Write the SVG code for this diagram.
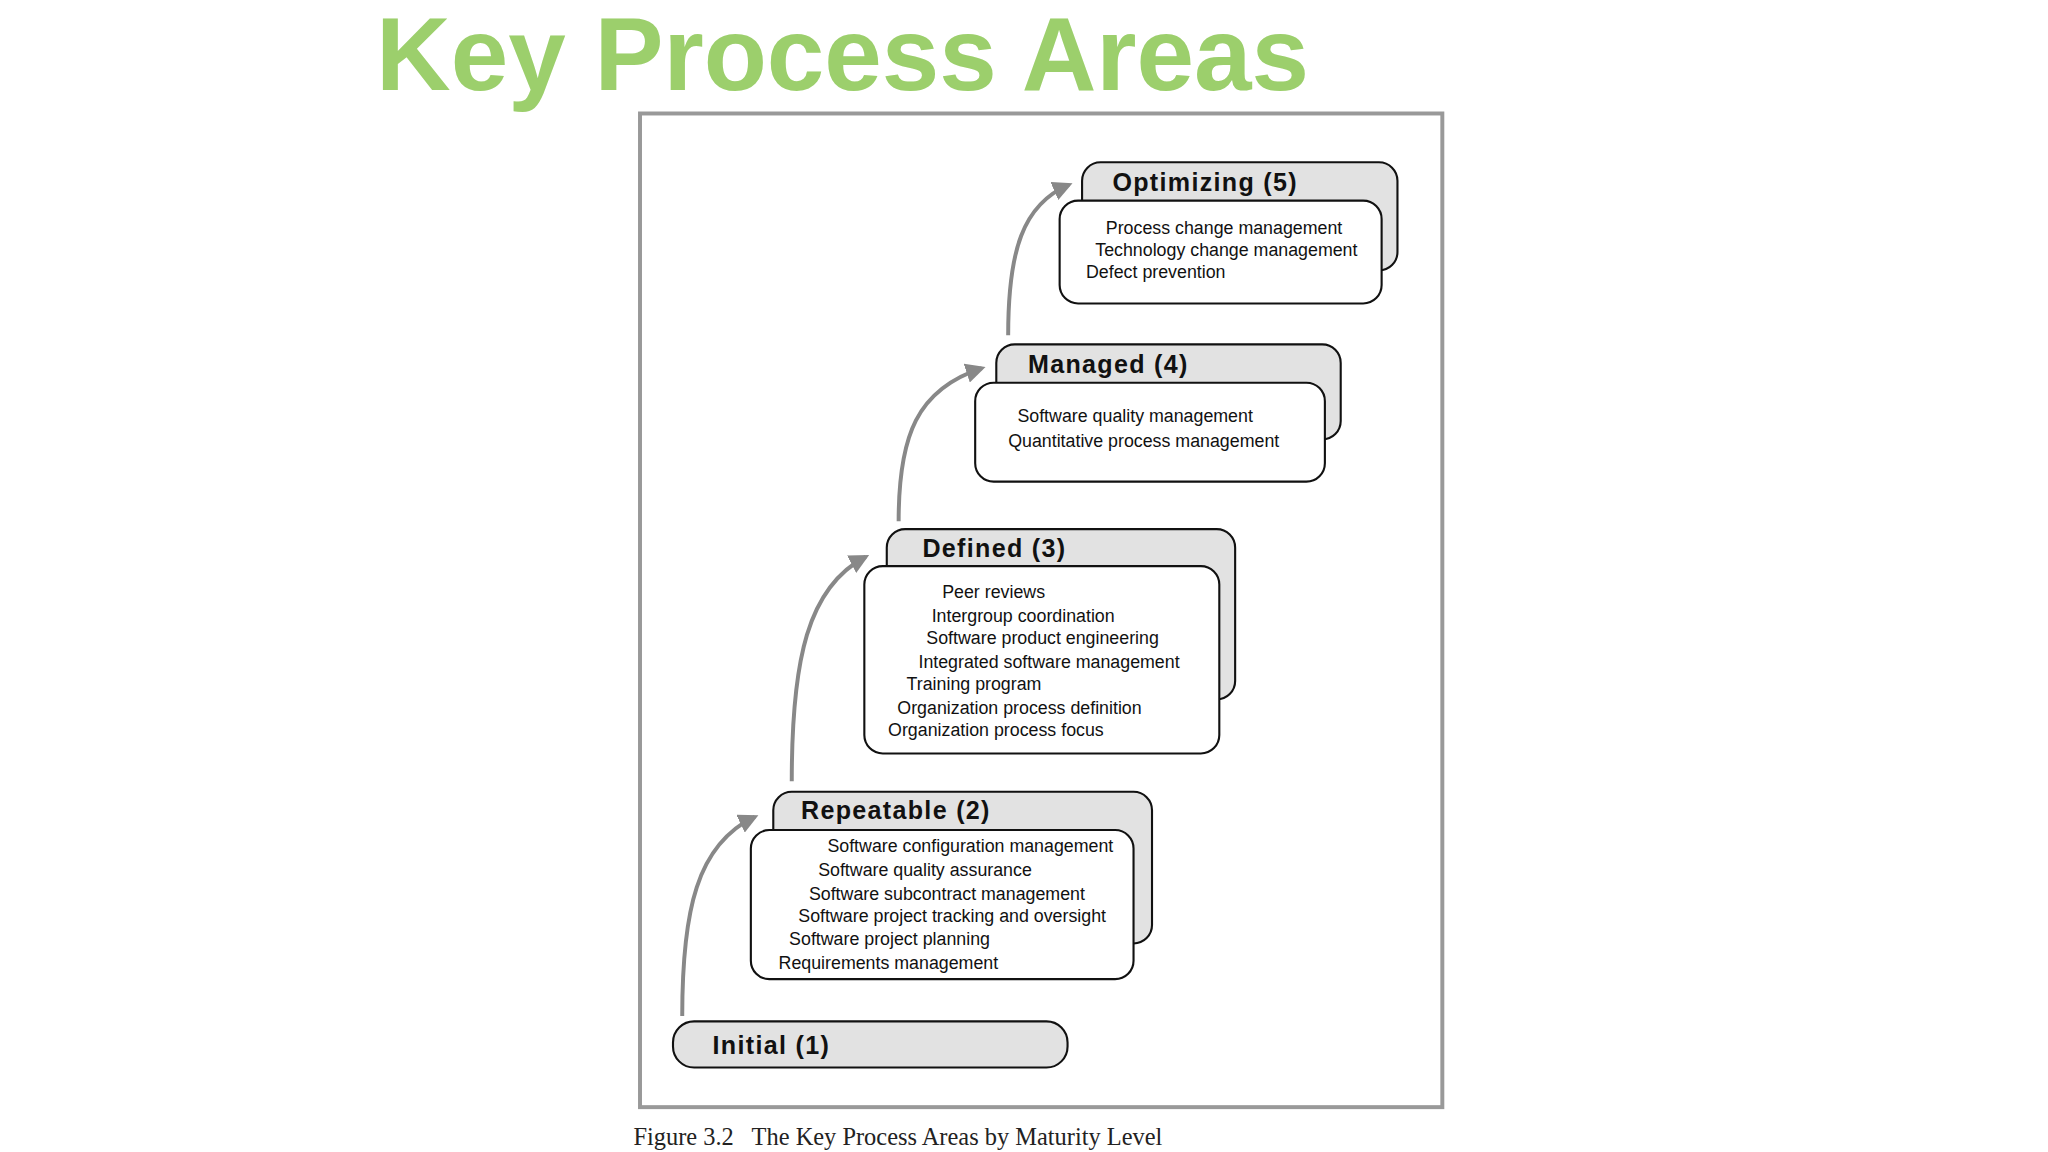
<svg xmlns="http://www.w3.org/2000/svg" width="2048" height="1152" viewBox="0 0 2048 1152">
<style>
.back{fill:#e2e2e2;stroke:#111;stroke-width:1.6}
.front{fill:#fff;stroke:#111;stroke-width:1.6}
.t{font-family:"Liberation Sans",Arial,sans-serif;font-weight:bold;font-size:19px;fill:#111;letter-spacing:1px}
.i{font-family:"Liberation Sans",Arial,sans-serif;font-size:13.5px;fill:#111}
.arr{fill:none;stroke:#888;stroke-width:3}
</style>
<defs><marker id="ah" viewBox="0 0 10 10" refX="8" refY="5" markerWidth="5" markerHeight="5" orient="auto"><path d="M0,0L10,5L0,10z" fill="#888"/></marker></defs>
<rect width="2048" height="1152" fill="#fff"/>
<g transform="scale(1.3196)">
<text x="285" y="68" font-family="Liberation Sans,Arial,sans-serif" font-weight="bold" font-size="78" fill="#9ccf6c" textLength="707" lengthAdjust="spacingAndGlyphs">Key Process Areas</text>
<rect x="485" y="86" width="608" height="753" fill="#fff" stroke="#999" stroke-width="3"/>
<text x="480" y="868" font-family="Liberation Serif,serif" font-size="18.5" fill="#222" xml:space="preserve">Figure 3.2   The Key Process Areas by Maturity Level</text>
<g id="connectors">
<path class="arr" marker-end="url(#ah)" d="M517,770 C517,690 528,640 572,619"/>
<path class="arr" marker-end="url(#ah)" d="M600,592 C600,500 612,445 656,422"/>
<path class="arr" marker-end="url(#ah)" d="M681,395 C681,330 695,295 744,279"/>
<path class="arr" marker-end="url(#ah)" d="M764,254 C764,190 775,155 810,140"/>
</g>
<g id="optimizing">
<rect class="back" x="820" y="123" width="239" height="82" rx="14"/>
<rect class="front" x="803" y="152" width="244" height="78" rx="14"/>
<text class="t" x="843" y="145">Optimizing (5)</text>
<text class="i" x="838" y="177">Process change management</text>
<text class="i" x="830" y="194">Technology change management</text>
<text class="i" x="823" y="211">Defect prevention</text>
</g>
<g id="managed">
<rect class="back" x="755" y="261" width="261" height="72" rx="14"/>
<rect class="front" x="739" y="290" width="265" height="75" rx="14"/>
<text class="t" x="779" y="283">Managed (4)</text>
<text class="i" x="771" y="320">Software quality management</text>
<text class="i" x="764" y="339">Quantitative process management</text>
</g>
<g id="defined">
<rect class="back" x="672" y="401" width="264" height="129" rx="14"/>
<rect class="front" x="655" y="429" width="269" height="142" rx="14"/>
<text class="t" x="699" y="422">Defined (3)</text>
<text class="i" x="714" y="453">Peer reviews</text>
<text class="i" x="706" y="471">Intergroup coordination</text>
<text class="i" x="702" y="488">Software product engineering</text>
<text class="i" x="696" y="506">Integrated software management</text>
<text class="i" x="687" y="523">Training program</text>
<text class="i" x="680" y="541">Organization process definition</text>
<text class="i" x="673" y="558">Organization process focus</text>
</g>
<g id="repeatable">
<rect class="back" x="586" y="600" width="287" height="115" rx="14"/>
<rect class="front" x="569" y="629" width="290" height="113" rx="14"/>
<text class="t" x="607" y="621">Repeatable (2)</text>
<text class="i" x="627" y="646">Software configuration management</text>
<text class="i" x="620" y="664">Software quality assurance</text>
<text class="i" x="613" y="682">Software subcontract management</text>
<text class="i" x="605" y="699">Software project tracking and oversight</text>
<text class="i" x="598" y="716">Software project planning</text>
<text class="i" x="590" y="734">Requirements management</text>
</g>
<g id="initial">
<rect class="back" x="510" y="774" width="299" height="35" rx="16"/>
<text class="t" x="540" y="799">Initial (1)</text>
</g>
</g>
</svg>
